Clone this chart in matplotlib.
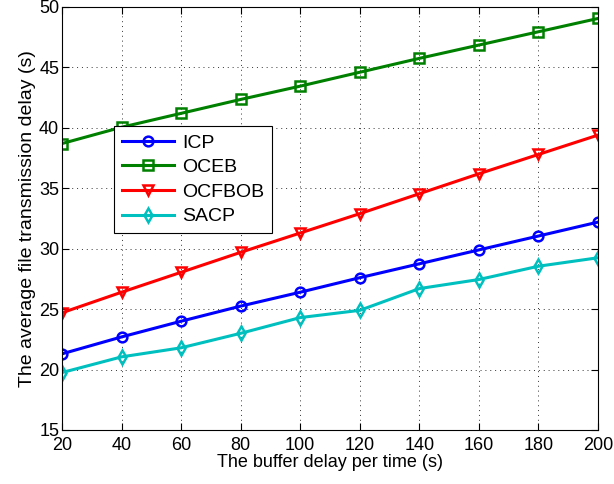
import matplotlib
matplotlib.use('Agg')
import matplotlib.pyplot as plt

plt.rcParams['font.family'] = ['Liberation Sans', 'DejaVu Sans']

bufferDelay = [20, 40, 60, 80, 100, 120, 140, 160, 180, 200]
icp = [21.3, 22.7, 24.0, 25.25, 26.4, 27.6, 28.75, 29.9, 31.05, 32.2]
oceb = [38.7, 40.05, 41.2, 42.35, 43.45, 44.6, 45.75, 46.85, 47.95, 49.05]
ocfbob = [24.7, 26.4, 28.05, 29.7, 31.3, 32.9, 34.55, 36.2, 37.8, 39.4]
sacp = [19.75, 21.05, 21.8, 23.0, 24.3, 24.9, 26.7, 27.45, 28.55, 29.25]

fig = plt.figure(figsize=(6.14, 4.84), dpi=100)
ax = fig.add_axes([0.101, 0.1116, 0.873, 0.874])

style = dict(linewidth=2.2, markersize=7, markeredgewidth=1.8, markerfacecolor='none')
ax.plot(bufferDelay, icp, '-o', color='#0000ff', label='ICP', **style)
ax.plot(bufferDelay, oceb, '-s', color='#008000', label='OCEB', **style)
ax.plot(bufferDelay, ocfbob, '-v', color='#ff0000', label='OCFBOB', **style)
ax.plot(bufferDelay, sacp, '-d', color='#00bfbf', label='SACP', **style)

ax.set_xlim(20, 200)
ax.set_ylim(15, 50)
ax.set_xticks(bufferDelay)
ax.set_yticks([15, 20, 25, 30, 35, 40, 45, 50])
ax.grid(True, linestyle=(0, (1, 4)), color='#333333', linewidth=0.7)
ax.tick_params(direction='in', top=True, right=True, labelsize=13, length=5)
ax.tick_params(axis='x', pad=5)
ax.tick_params(axis='y', pad=2)
for sp in ax.spines.values():
    sp.set_linewidth(0.8)

ax.set_xlabel('The buffer delay per time (s)', fontsize=13, labelpad=0)
ax.set_ylabel('The average file transmission delay (s)', fontsize=14, labelpad=2)

leg = ax.legend(loc='upper left', bbox_to_anchor=(0.097, 0.718), fontsize=14,
                fancybox=False, edgecolor='black', framealpha=1, handlelength=2.7,
                borderaxespad=0, labelspacing=0.36, borderpad=0.4, handletextpad=0.4)
leg.get_frame().set_linewidth(0.8)

plt.savefig('out.png', dpi=100)
